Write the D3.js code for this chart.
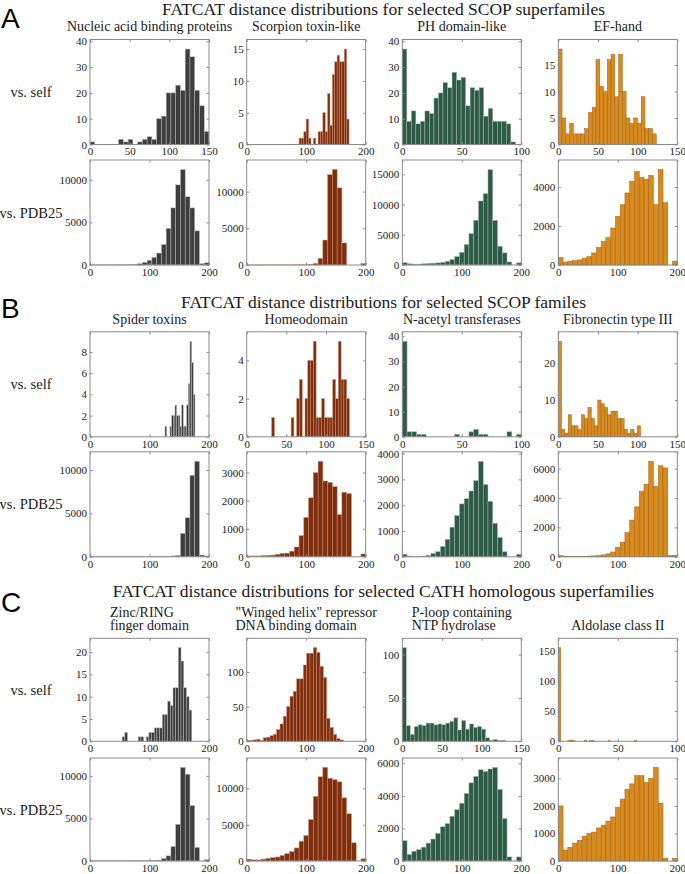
<!DOCTYPE html>
<html>
<head>
<meta charset="utf-8">
<script src="https://cdn.jsdelivr.net/npm/d3@7"></script>
<style>
  body { margin: 0; background: #fff; }
  svg { display: block; font-family: "Liberation Serif", "Times New Roman", serif; }
</style>
</head>
<body>
<svg id="chart" width="685" height="874"></svg>
<script>
const sectionLetters = ["A", "B", "C"];
const sectionTitles = [
  "FATCAT distance distributions for selected SCOP superfamiles",
  "FATCAT distance distributions for selected SCOP familes",
  "FATCAT distance distributions for selected CATH homologous superfamilies"
];
const panelTitles = [
  [["Nucleic acid binding proteins"], ["Scorpion toxin-like"], ["PH domain-like"], ["EF-hand"]],
  [["Spider toxins"], ["Homeodomain"], ["N-acetyl transferases"], ["Fibronectin type III"]],
  [["Zinc/RING", "finger domain"], ["\"Winged helix\" repressor", "DNA binding domain"],
   ["P-loop containing", "NTP hydrolase"], ["Aldolase class II"]]
];
const rowLabels = ["vs. self", "vs. PDB25"];

// histogram counts, vs. self
const aSelfNucleic = [1,0,0,0,0,0,2,1,2,0,1,2,3,2,10,11,20,20,23,21,37,34,21,15,5];
const aSelfScorpion = [0,0,0,0,0,0,0,0,0,0,0,0,0,0,0,0,0,0,0,0,0,0,
  1,1,2,4,1,0,1,0,2,2,5,2,8,3,11,13,14,13,13,15,4];
const aSelfPH = [37,9,13,8,9,13,12,18,20,24,22,28,25,26,15,22,21,22,11,14,9,9,9,8,1];
const aSelfEFhand = [18,5,2,4,2,2,2,3,6,7,16,11,10,16,17,9,17,10,5,4,5,4,9,3,3,2];

const bSelfSpider = [0,0,0,0,0,0,0,0,0,0,0,0,0,0,0,0,0,0,0,0,0,0,0,0,0,0,0,0,0,0,
  0,0,0,0,0,0,0,0,0,0,0,0,0,0,0,1,0,0,1,2,2,3,2,2,1,3,1,1,3,5,9,7,4];
const bSelfHomeo = [0,0,0,0,0,0,0,0,0,1,0,0,0,0,0,0,1,0,2,3,0,2,4,4,5,1,1,2,1,1,1,3,2,5,3,3,2];
const bSelfNacetyl = [38,2,2,1,1,0,0,0,0,0,0,1,0,0,2,3,1,1,0,0,0,0,2,0,1];
const bSelfFibro = [26,2,1,6,3,3,2,6,5,8,5,3,10,9,8,6,7,7,5,5,2,1,2,1,3];

const cSelfZinc = [0,0,0,0,0,0,0,0,0,0,0,0,1,2,0,0,0,0,1,1,0,1,2,2,3,3,3,6,6,9,8,12,12,21,18,12,10,7];
const cSelfWinged = [1,1,2,3,1,5,6,8,10,17,25,36,50,65,72,90,90,110,127,127,135,128,108,92,33,20,10,4,2];
const cSelfPloop = [108,18,8,17,19,18,21,21,19,20,19,21,23,27,13,24,14,20,16,17,14,4,1,2,1,1];
const cSelfAldolase = [155,0,0,0,1,2,1,0,0,0,0,2,0,1,1,0,0,0,0,0,0,1,0,0,0,0,0,0,0,0,0,0,1];

// histogram counts, vs. PDB25
const aPdbNucleic = [20,20,20,20,20,30,30,40,50,80,150,300,550,900,1400,2400,4300,6700,9400,11200,8000,6700,4000,150,250];
const aPdbScorpion = [10,10,10,10,10,10,10,10,10,10,20,20,30,50,200,900,3400,12300,13000,10500,3000,0,0,0,200];
const aPdbPH = [400,200,150,150,200,250,300,350,450,600,900,1400,2100,3400,5200,7400,10600,11800,15800,7400,3100,2000,500,0,350];
const aPdbEFhand = [400,150,200,220,260,350,430,620,900,1200,1400,1900,2500,3100,3700,4300,4800,4500,4400,4600,3100,4900,3200,0,200];

const bPdbSpider = [30,20,20,20,20,20,20,20,20,20,20,20,30,30,40,50,60,100,150,2700,4500,9400,11000,200,100];
const bPdbHomeo = [30,30,30,40,50,60,90,120,130,200,350,750,1400,2100,3000,3400,2700,2650,2500,1500,2300,2250,0,0,100];
const bPdbNacetyl = [100,30,20,20,30,60,130,200,400,680,1150,1600,2050,2250,2550,2950,3700,2800,2150,1300,750,200,0,0,100];
const bPdbFibro = [80,30,30,30,30,40,50,60,80,130,200,330,650,1000,1650,2500,3400,4450,4950,6500,4800,6200,6050,100,100];

const cPdbZinc = [30,20,20,20,20,20,20,20,30,30,30,40,50,80,100,300,600,1700,4300,11000,10200,6500,1600,0,150];
const cPdbWinged = [250,150,150,250,350,450,550,750,1000,1300,1800,2700,3500,5700,8900,11600,12900,11400,11200,10900,8700,6500,2500,0,300];
const cPdbPloop = [1250,400,600,700,850,1100,1350,1700,2100,2300,2750,3150,3550,4150,4800,5200,5600,5500,5650,5750,4400,2600,250,0,250];
const cPdbAldolase = [2000,400,500,650,750,900,1000,1050,1200,1300,1450,1600,1950,2250,2600,2800,3100,3100,2850,3000,3400,2100,100,0,100];

// bin widths and axis ranges
const selfBinWidth = [[6, 4, 3.8, 4.75], [2.8, 3.5, 4, 4.15], [4.5, 5.6, 5, 2]];
const pdbBinWidth = 8;
const selfXMax = [[150, 200, 100, 150], [200, 150, 100, 150], [200, 200, 150, 100]];
const pdbXMax = 200;
const xTickSets = { 100: [0, 50, 100], 150: [0, 50, 100, 150], 200: [0, 100, 200] };
const selfYTicks = [
  [[0, 10, 20, 30, 40], [0, 5, 10, 15], [0, 10, 20, 30, 40], [0, 5, 10, 15]],
  [[0, 2, 4, 6, 8], [0, 2, 4], [0, 10, 20, 30, 40], [0, 10, 20]],
  [[0, 5, 10, 15, 20], [0, 50, 100], [0, 50, 100], [0, 50, 100, 150]]
];
const pdbYTicks = [
  [[0, 5000, 10000], [0, 5000, 10000], [0, 5000, 10000, 15000], [0, 2000, 4000]],
  [[0, 5000, 10000], [0, 1000, 2000, 3000], [0, 1000, 2000, 3000, 4000], [0, 2000, 4000, 6000]],
  [[0, 5000, 10000], [0, 5000, 10000], [0, 2000, 4000, 6000], [0, 1000, 2000, 3000]]
];

const selfCounts = [
  [aSelfNucleic, aSelfScorpion, aSelfPH, aSelfEFhand],
  [bSelfSpider, bSelfHomeo, bSelfNacetyl, bSelfFibro],
  [cSelfZinc, cSelfWinged, cSelfPloop, cSelfAldolase]
];
const pdbCounts = [
  [aPdbNucleic, aPdbScorpion, aPdbPH, aPdbEFhand],
  [bPdbSpider, bPdbHomeo, bPdbNacetyl, bPdbFibro],
  [cPdbZinc, cPdbWinged, cPdbPloop, cPdbAldolase]
];

// layout
const colLeft = [90, 246.7, 402.3, 558.3];
const panelW = 119;
const rowTops = [[39.5, 160], [331.8, 451.8], [638.3, 758]];
const panelH = [105, 105, 103];
const titleY = [15, 307.5, 597];
const colTitleY = [31, 323.5, 630];
const letterY = [28, 318, 612];

const fills = ["#3e3e3e", "#7f2f0e", "#2e5b45", "#d98a1f"];
const edges = ["#b8b8b8", "#c98a6e", "#a0b9ab", "#9c6414"];
const axisGray = "#8a8a8a";
const textColor = "#1a1a1a";
const fmt = d3.format("d");

const svg = d3.select("#chart");
svg.append("rect").attr("width", 685).attr("height", 874).attr("fill", "#fff");

function styleAxis(a) {
  a.select(".domain").remove();
  a.attr("font-family", null).attr("font-size", null);
  a.selectAll("line").attr("stroke", axisGray);
  a.selectAll("text").attr("fill", textColor).attr("font-size", 11);
}

function drawPanel(left, top, h, counts, binW, xMax, yTicks, c) {
  const g = svg.append("g").attr("transform", `translate(${left},${top})`);
  const x = d3.scaleLinear().domain([0, xMax]).range([0, panelW]);
  const y = d3.scaleLinear().domain([0, d3.max(counts) * 1.1]).range([h, 0]);
  const xTicks = xTickSets[xMax];

  const bins = counts.map((v, i) => ({ x0: i * binW, x1: (i + 1) * binW, v: v }))
    .filter(d => d.v > 0);

  g.selectAll("rect.bar")
    .data(bins)
    .join("rect")
    .attr("class", "bar")
    .attr("x", d => x(d.x0))
    .attr("width", d => x(d.x1) - x(d.x0))
    .attr("y", d => y(d.v))
    .attr("height", d => h - y(d.v))
    .attr("fill", fills[c])
    .attr("stroke", edges[c])
    .attr("stroke-width", 0.5);

  g.append("g")
    .attr("transform", `translate(0,${h})`)
    .call(d3.axisBottom(x).tickValues(xTicks).tickFormat(fmt).tickSize(-2.5).tickSizeOuter(0).tickPadding(3))
    .call(styleAxis);
  g.append("g")
    .call(d3.axisLeft(y).tickValues(yTicks).tickFormat(fmt).tickSize(-2.5).tickSizeOuter(0).tickPadding(3))
    .call(styleAxis);
  g.append("g")
    .call(d3.axisTop(x).tickValues(xTicks).tickSize(-2.5).tickSizeOuter(0).tickFormat(""))
    .call(styleAxis);
  g.append("g")
    .attr("transform", `translate(${panelW},0)`)
    .call(d3.axisRight(y).tickValues(yTicks).tickSize(-2.5).tickSizeOuter(0).tickFormat(""))
    .call(styleAxis);

  g.append("rect")
    .attr("width", panelW)
    .attr("height", h)
    .attr("fill", "none")
    .attr("stroke", axisGray)
    .attr("stroke-width", 1);
}

sectionLetters.forEach((letter, s) => {
  svg.append("text")
    .attr("x", 1)
    .attr("y", letterY[s])
    .attr("font-family", "'Liberation Sans', Arial, sans-serif")
    .attr("font-size", 28)
    .attr("fill", "#000")
    .text(letter);

  svg.append("text")
    .attr("x", 383.5)
    .attr("y", titleY[s])
    .attr("text-anchor", "middle")
    .attr("font-size", 17.5)
    .attr("fill", textColor)
    .text(sectionTitles[s]);

  panelTitles[s].forEach((lines, c) => {
    const cx = colLeft[c] + panelW / 2;
    const texts = lines.map((line, i) => svg.append("text")
      .attr("y", colTitleY[s] - (lines.length - 1 - i) * 13.5)
      .attr("font-size", 14)
      .attr("fill", textColor)
      .text(line));
    const maxW = d3.max(texts, t => t.node().getComputedTextLength());
    texts.forEach(t => t.attr("x", cx - maxW / 2));
  });

  rowLabels.forEach((label, r) => {
    const h = panelH[s];
    svg.append("text")
      .attr("x", 31)
      .attr("y", rowTops[s][r] + h / 2 + 5)
      .attr("text-anchor", "middle")
      .attr("font-size", 14.5)
      .attr("fill", textColor)
      .text(label);

    for (let c = 0; c < 4; c++) {
      if (r === 0) {
        drawPanel(colLeft[c], rowTops[s][r], h, selfCounts[s][c], selfBinWidth[s][c],
          selfXMax[s][c], selfYTicks[s][c], c);
      } else {
        drawPanel(colLeft[c], rowTops[s][r], h, pdbCounts[s][c], pdbBinWidth,
          pdbXMax, pdbYTicks[s][c], c);
      }
    }
  });
});
</script>
</body>
</html>
